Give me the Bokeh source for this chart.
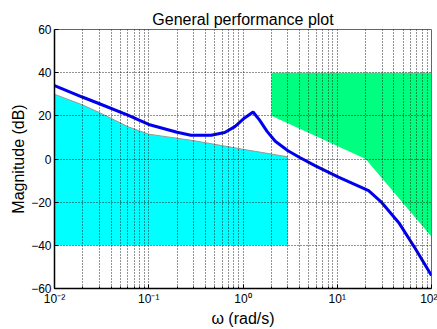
from bokeh.plotting import figure
from bokeh.models import FixedTicker
from bokeh.embed import file_html
from bokeh.resources import INLINE

# Frequency response (blue curve)
omega = [0.01, 0.02, 0.03, 0.06, 0.1, 0.2, 0.28, 0.46, 0.64, 0.82, 1.04, 1.28,
         1.5, 1.8, 2.2, 3.0, 4.0, 5.8, 10.3, 21.5, 29, 45, 67.5, 100]
mag = [34, 28.6, 25.6, 20.3, 16, 12.4, 11, 11, 12.3, 15, 19, 21.8,
       18, 12.8, 8.2, 3.8, 0.7, -3.1, -8.4, -14.7, -19.7, -29.5, -41.6, -54]

# Low-frequency performance bound (cyan region)
low_w = [0.01, 0.02, 0.03, 0.06, 0.1, 0.3, 1.0, 3.0]
low_bound = [30, 25, 21.5, 15, 11.5, 8.5, 4.5, 1.0]
low_floor = -40

# High-frequency robustness bound (green region)
high_w = [2, 20, 100]
high_bound = [20, 0, -36]
high_ceiling = 40

x_major = [0.01, 0.1, 1, 10, 100]
x_labels = ["10\u207b\u00b2", "10\u207b\u00b9", "10\u2070", "10\u00b9", "10\u00b2"]
x_minor = [m * d for d in [0.01, 0.1, 1, 10] for m in range(2, 10)]
y_ticks = [-60, -40, -20, 0, 20, 40, 60]

FONT = "Liberation Sans"

p = figure(width=437, height=329, x_axis_type="log",
           x_range=(0.01, 100), y_range=(-60, 60),
           output_backend="svg", toolbar_location=None,
           title="General performance plot",
           min_border_left=54, min_border_right=6,
           min_border_top=29, min_border_bottom=35)

p.title.align = "center"
p.title.text_font = FONT
p.title.text_font_size = "16px"
p.title.text_font_style = "normal"
p.title.text_color = "black"
p.title.standoff = 3

# regions
cx = low_w + [low_w[-1], low_w[0]]
cy = low_bound + [low_floor, low_floor]
p.patch(cx, cy, fill_color="#00FFFF", line_color=None, level="underlay")
p.line(low_w, low_bound, line_color="#999999", line_width=1, level="underlay")

gx = high_w + [high_w[-1], high_w[0]]
gy = high_bound + [high_ceiling, high_ceiling]
p.patch(gx, gy, fill_color="#00FF80", line_color=None, level="underlay")

p.line(omega, mag, line_color="#0000EE", line_width=3)

# axes
xt = FixedTicker(ticks=x_major, minor_ticks=x_minor)
p.xaxis.ticker = xt
p.xaxis.major_label_overrides = {t: l for t, l in zip(x_major, x_labels)}
p.yaxis.ticker = FixedTicker(ticks=y_ticks)

for ax in [p.xaxis[0], p.yaxis[0]]:
    ax.axis_line_color = "black"
    ax.axis_line_width = 1.5
    ax.major_tick_in = 4
    ax.major_tick_out = 0
    ax.minor_tick_in = 2
    ax.minor_tick_out = 0
    ax.major_label_text_font = FONT
    ax.major_label_text_font_size = "12px"
    ax.major_label_text_color = "black"
    ax.axis_label_text_font = FONT
    ax.axis_label_text_font_size = "16px"
    ax.axis_label_text_font_style = "normal"
    ax.axis_label_text_color = "black"
    ax.major_label_standoff = 3
    ax.axis_label_standoff = 1

p.xaxis.axis_label = "\u03c9 (rad/s)"
p.yaxis.axis_label = "Magnitude (dB)"
p.yaxis.minor_tick_line_color = None

# grid
p.xgrid.ticker = xt
p.xgrid.grid_line_color = "black"
p.xgrid.grid_line_dash = "1 2"
p.xgrid.grid_line_alpha = 0.85
p.xgrid.minor_grid_line_color = "black"
p.xgrid.minor_grid_line_dash = "1 2"
p.xgrid.minor_grid_line_alpha = 0.85
p.ygrid.ticker = FixedTicker(ticks=y_ticks)
p.ygrid.grid_line_color = "black"
p.ygrid.grid_line_dash = "1 2"
p.ygrid.grid_line_alpha = 0.85
p.xgrid.level = "glyph"
p.ygrid.level = "glyph"

p.outline_line_color = "#666666"
p.background_fill_color = "white"
p.border_fill_color = "white"

open("out.html", "w").write(file_html(p, INLINE))
